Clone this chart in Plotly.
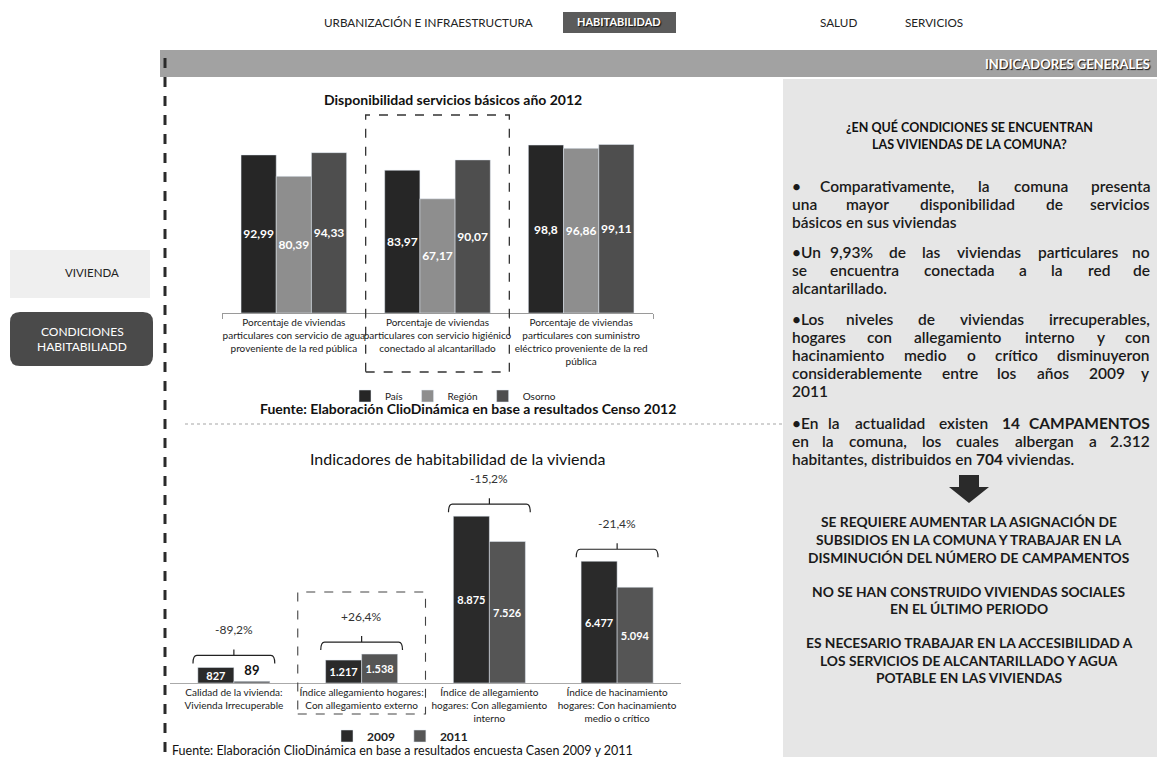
import plotly.graph_objects as go

# the figure fills the whole 1159x760 window (body margin removed after load)
W, H = 1159, 760
def X(px): return px / W
def Y(py): return 1 - py / H

FONT = "Lato"

# ---------------- data ----------------
svc_categories = [
    "Porcentaje de viviendas<br>particulares con servicio de agua<br>proveniente de la red pública",
    "Porcentaje de viviendas<br>particulares con servicio higiénico<br>conectado al alcantarillado",
    "Porcentaje de viviendas<br>particulares con suministro<br>eléctrico proveniente de la red<br>pública",
]
svc_pais = [92.99, 83.97, 98.8]
svc_region = [80.39, 67.17, 96.86]
svc_osorno = [94.33, 90.07, 99.11]

hab_categories = [
    "Calidad de la vivienda:<br>Vivienda Irrecuperable",
    "Índice allegamiento hogares:<br>Con allegamiento externo",
    "Índice de allegamiento<br>hogares: Con allegamiento<br>interno",
    "Índice de hacinamiento<br>hogares: Con hacinamiento<br>medio o crítico",
]
hab_2009 = [827, 1217, 8875, 6477]
hab_2011 = [89, 1538, 7526, 5094]

def fmt_dec(v):
    return str(v).replace(".", ",")

def fmt_int(v):
    return f"{v:,}".replace(",", ".")

fig = go.Figure()

# ---------------- top chart ----------------
top_w = 0.245
for name, vals, col, off in [
    ("País", svc_pais, "#262626", -1.5 * top_w),
    ("Región", svc_region, "#8e8e8e", -0.5 * top_w),
    ("Osorno", svc_osorno, "#4e4e4e", 0.5 * top_w),
]:
    fig.add_trace(go.Bar(
        x=svc_categories, y=vals, name=name, marker_color=col,
        width=top_w, offset=off,
        text=[fmt_dec(v) for v in vals], texttemplate="<b>%{text}</b>",
        textposition="inside", insidetextanchor="middle", textangle=0,
        constraintext="none",
        textfont=dict(color="white", size=12, family=FONT),
        xaxis="x", yaxis="y", legend="legend", cliponaxis=False,
    ))

# ---------------- bottom chart ----------------
bot_w = 0.282
for name, vals, col, off in [
    ("2009", hab_2009, "#2a2a2a", -bot_w),
    ("2011", hab_2011, "#555555", 0.0),
]:
    pos = ["outside" if v < 300 else "inside" for v in vals]
    fig.add_trace(go.Bar(
        x=hab_categories, y=vals, name=name, marker_color=col,
        width=bot_w, offset=off,
        text=[fmt_int(v) for v in vals], texttemplate="<b>%{text}</b>",
        textposition=pos, insidetextanchor="middle", textangle=0,
        insidetextfont=dict(color="white", size=11, family=FONT),
        outsidetextfont=dict(color="#111", size=13, family=FONT),
        constraintext="none",
        xaxis="x2", yaxis="y2", legend="legend2", cliponaxis=False,
    ))

shapes = []
ann = []

# backgrounds
shapes.append(dict(type="rect", xref="paper", yref="paper", layer="below",
                   x0=X(783), x1=X(1157), y0=Y(757), y1=Y(79),
                   fillcolor="#e6e6e6", line=dict(width=0)))
shapes.append(dict(type="rect", xref="paper", yref="paper", layer="below",
                   x0=X(160), x1=X(1157), y0=Y(77), y1=Y(50),
                   fillcolor="#a2a2a2", line=dict(width=0)))
shapes.append(dict(type="rect", xref="paper", yref="paper", layer="below",
                   x0=X(563), x1=X(676), y0=Y(33), y1=Y(12),
                   fillcolor="#5b5b5b", line=dict(width=0)))
shapes.append(dict(type="rect", xref="paper", yref="paper", layer="below",
                   x0=X(10), x1=X(150), y0=Y(298), y1=Y(250),
                   fillcolor="#efefef", line=dict(width=0)))
shapes.append(dict(type="path", xref="paper", yref="paper", layer="below",
                   path=(f"M {X(20)},{Y(312)} L {X(143)},{Y(312)} Q {X(153)},{Y(312)} {X(153)},{Y(322)} "
                         f"L {X(153)},{Y(356)} Q {X(153)},{Y(366)} {X(143)},{Y(366)} "
                         f"L {X(20)},{Y(366)} Q {X(10)},{Y(366)} {X(10)},{Y(356)} "
                         f"L {X(10)},{Y(322)} Q {X(10)},{Y(312)} {X(20)},{Y(312)} Z"),
                   fillcolor="#4a4a4a", line=dict(width=0)))

# vertical dashed separator
shapes.append(dict(type="line", xref="paper", yref="paper",
                   x0=X(165), x1=X(165), y0=Y(58), y1=Y(752),
                   line=dict(color="#2a2a2a", width=3, dash="10px,9px")))
# dotted horizontal separator
shapes.append(dict(type="line", xref="paper", yref="paper",
                   x0=X(185), x1=X(785), y0=Y(424), y1=Y(424),
                   line=dict(color="#c4c4c4", width=1.5, dash="dot")))

# dashed highlight boxes around the middle categories
shapes.append(dict(type="rect", xref="x", yref="paper",
                   x0=0.5, x1=1.5, y0=Y(372), y1=Y(115),
                   line=dict(color="#333", width=1.3, dash="dash")))
shapes.append(dict(type="rect", xref="x2", yref="paper",
                   x0=0.5, x1=1.5, y0=Y(714), y1=Y(592),
                   line=dict(color="#444", width=1.1, dash="dash")))

# brackets with % change
BOT_BASE, BOT_PX, BOT_MAX = 683, 188.0, 10000
u = BOT_MAX / BOT_PX  # data units per pixel on bottom chart
for i, (a, b) in enumerate(zip(hab_2009, hab_2011)):
    yb = max(a, b) + 12 * u
    hw = 0.32
    shapes.append(dict(type="path", xref="x2", yref="y2",
                       path=(f"M {i-hw},{yb-8*u} Q {i-hw},{yb} {i-hw+0.03},{yb} "
                             f"L {i+hw-0.03},{yb} Q {i+hw},{yb} {i+hw},{yb-8*u} "
                             f"M {i},{yb} L {i},{yb+6*u}"),
                       line=dict(color="#222", width=1.2)))
    pct = (b - a) / a * 100
    ann.append(dict(xref="x2", yref="y2", x=i, y=yb + 26 * u, showarrow=False,
                    text=f"{pct:+.1f}%".replace(".", ","),
                    font=dict(size=12, family=FONT, color="#333")))

# arrow
ax = 969
shapes.append(dict(type="path", xref="paper", yref="paper",
                   path=(f"M {X(ax-10)},{Y(475)} L {X(ax+10)},{Y(475)} L {X(ax+10)},{Y(487)} "
                         f"L {X(ax+20)},{Y(487)} L {X(ax)},{Y(503)} L {X(ax-20)},{Y(487)} "
                         f"L {X(ax-10)},{Y(487)} Z"),
                   fillcolor="#2a2a2a", line=dict(width=0)))

def A(px, py, text, size=12, color="#222", xanchor="center", weight="normal", shadow=None, family=FONT):
    f = dict(size=size, color=color, family=family, weight=weight)
    if shadow:
        f["shadow"] = shadow
    ann.append(dict(xref="paper", yref="paper", x=X(px), y=Y(py), text=text,
                    showarrow=False, xanchor=xanchor, yanchor="middle", font=f))

# navigation
A(428, 22, "URBANIZACIÓN E INFRAESTRUCTURA", 11.7, "#222")
A(619, 22, "HABITABILIDAD", 11, "white", weight="bold", shadow="1px 1px 1px #111")
A(838, 22, "SALUD", 11.7, "#222")
A(934, 22, "SERVICIOS", 11.7, "#222")
A(1152, 64, "INDICADORES GENERALES", 13, "white", xanchor="right", weight="bold",
  shadow="1px 1px 1px #111")

# side menu
A(92, 273, "VIVIENDA", 11.5, "#222")
A(82, 331, "CONDICIONES", 12, "white")
A(82, 347, "HABITABILIADD", 12, "white")

# chart titles & sources
A(453, 100, "Disponibilidad servicios básicos año 2012", 14, "#111", weight="bold")
A(468, 408, "Fuente: Elaboración ClioDinámica en base a resultados Censo 2012", 14, "#111", weight="bold")
A(457, 458, "Indicadores de habitabilidad de la vivienda", 16, "#111")
A(402, 750, "Fuente: Elaboración ClioDinámica en base a resultados encuesta Casen 2009 y 2011", 12.5, "#111")

# right panel
A(969, 127, "¿EN QUÉ CONDICIONES SE ENCUENTRAN", 12.5, "#111", weight="bold")
A(969, 144, "LAS VIVIENDAS DE LA COMUNA?", 12.5, "#111", weight="bold")

EM = {}
for ch, w in zip("abcdefghijklmnopqrstuvwxyz",
                 [.53, .57, .47, .57, .53, .33, .52, .57, .26, .26, .52, .26, .85,
                  .57, .56, .57, .57, .38, .44, .36, .57, .51, .77, .51, .51, .46]):
    EM[ch] = w
for ch in "áéíóú":
    EM[ch] = EM["aeiou"["áéíóú".index(ch)]]
EM["ñ"] = .57

def wlen(s, size):
    t = 0
    for ch in s:
        if ch in EM:
            t += EM[ch]
        elif ch.isupper():
            t += .30 if ch == "I" else (.85 if ch in "MW" else .66)
        elif ch.isdigit():
            t += .58
        elif ch == "%":
            t += .80
        elif ch == "•":
            t += .36
        else:
            t += .26
    return t * size

BODY_SIZE = 15.5
LEFT, RIGHT = 790, 1152
body_lines = [
    ("• Comparativamente, la comuna presenta", 186, True),
    ("una mayor disponibilidad de servicios", 204, True),
    ("básicos en sus viviendas", 222, False),
    ("•Un 9,93% de las viviendas particulares no", 252, True),
    ("se encuentra conectada a la red de", 270, True),
    ("alcantarillado.", 288, False),
    ("•Los niveles de viviendas irrecuperables,", 319, True),
    ("hogares con allegamiento interno y con", 337, True),
    ("hacinamiento medio o crítico disminuyeron", 355, True),
    ("considerablemente entre los años 2009 y", 373, True),
    ("2011", 391, False),
    ("•En la actualidad existen 14 CAMPAMENTOS", 423, True),
    ("en la comuna, los cuales albergan a 2.312", 441, True),
    ("habitantes, distribuidos en 704 viviendas.", 459, False),
]
emph = {"14", "CAMPAMENTOS", "704"}

def wtxt(w):
    return f"<b>{w}</b>" if w in emph else w

for line, py, just in body_lines:
    words = line.split(" ")
    if not just:
        A(LEFT, py, " ".join(wtxt(w) for w in words), BODY_SIZE, "#1a1a1a",
          xanchor="left", weight=600)
        continue
    widths = [wlen(w, BODY_SIZE) for w in words]
    gap = (RIGHT - LEFT - sum(widths)) / (len(words) - 1)
    x = LEFT
    for k, (w, wd) in enumerate(zip(words, widths)):
        if k == 0:
            A(LEFT, py, wtxt(w), BODY_SIZE, "#1a1a1a", xanchor="left", weight=600)
        elif k == len(words) - 1:
            A(RIGHT, py, wtxt(w), BODY_SIZE, "#1a1a1a", xanchor="right", weight=600)
        else:
            A(x + wd / 2, py, wtxt(w), BODY_SIZE, "#1a1a1a", weight=600)
        x += wd + gap

caps = [
    ("SE REQUIERE AUMENTAR LA ASIGNACIÓN DE", 521),
    ("SUBSIDIOS EN LA COMUNA Y TRABAJAR EN LA", 539),
    ("DISMINUCIÓN DEL NÚMERO DE CAMPAMENTOS", 557),
    ("NO SE HAN CONSTRUIDO VIVIENDAS SOCIALES", 591),
    ("EN EL ÚLTIMO PERIODO", 608),
    ("ES NECESARIO TRABAJAR EN LA ACCESIBILIDAD A", 642),
    ("LOS SERVICIOS DE ALCANTARILLADO Y AGUA", 660),
    ("POTABLE EN LAS VIVIENDAS", 677),
]
for t, py in caps:
    A(969, py, t, 13.8, "#1a1a1a", weight="bold")

tickfont = dict(size=10, family=FONT, color="#1a1a1a")
BOT_TOP_RANGE = 11500
fig.update_layout(
    width=W, height=H, autosize=False,
    margin=dict(l=0, r=0, t=0, b=0),
    paper_bgcolor="white", plot_bgcolor="rgba(0,0,0,0)",
    barmode="group", showlegend=True,
    font=dict(family=FONT, color="#222"),
    xaxis=dict(domain=[X(222), X(653)], anchor="y", type="category", tickangle=0,
               showline=True, linecolor="#9a9a9a", linewidth=1,
               ticks="outside", tickson="boundaries", ticklen=5, tickcolor="#9a9a9a",
               tickfont=tickfont, showgrid=False, zeroline=False, fixedrange=True),
    yaxis=dict(domain=[Y(313), Y(143)], anchor="x", range=[0, 100], visible=False,
               fixedrange=True),
    xaxis2=dict(domain=[X(170), X(681)], anchor="y2", type="category", tickangle=0,
                showline=True, linecolor="#aaaaaa", linewidth=1, ticks="",
                tickfont=tickfont, showgrid=False, zeroline=False, fixedrange=True),
    yaxis2=dict(domain=[Y(BOT_BASE), Y(BOT_BASE - BOT_PX * BOT_TOP_RANGE / BOT_MAX)],
                anchor="x2", range=[0, BOT_TOP_RANGE], visible=False, fixedrange=True),
    legend=dict(orientation="h", x=X(453), y=Y(396), xanchor="center", yanchor="middle",
                font=dict(size=10, family=FONT, color="#222"), itemwidth=30,
                bgcolor="rgba(0,0,0,0)"),
    legend2=dict(orientation="h", x=X(400), y=Y(736), xanchor="center", yanchor="middle",
                 font=dict(size=12, family=FONT, color="#222", weight="bold"), itemwidth=30,
                 bgcolor="rgba(0,0,0,0)"),
    shapes=shapes, annotations=ann,
)

fig.write_html(
    "out.html",
    config={"displayModeBar": False},
    post_script="document.body.style.margin='0';document.body.style.overflow='hidden';",
)
